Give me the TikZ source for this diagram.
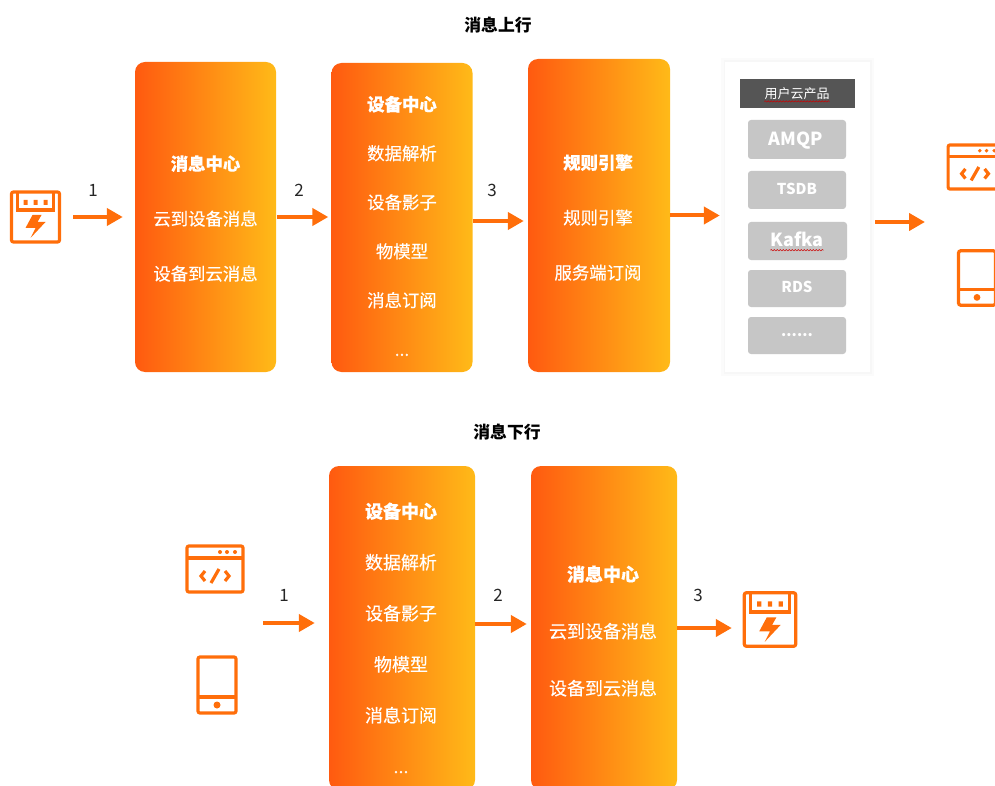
\documentclass[tikz,border=0pt]{standalone}
\usepackage{fontspec}
\setmainfont{Noto Sans CJK SC}
\usetikzlibrary{arrows.meta,decorations.pathmorphing}
\definecolor{flowOrange}{HTML}{FF6E0A}
\definecolor{flowLeft}{HTML}{FF5A10}
\definecolor{flowMid}{HTML}{FFA018}
\definecolor{flowRight}{HTML}{FFBA18}
\definecolor{itemGray}{HTML}{C6C6C6}
\definecolor{headGray}{HTML}{555555}
\tikzstyle{flow box} = [rectangle,rounded corners=10,left color=flowLeft,middle color=flowMid,right color=flowRight,draw=none]
\tikzstyle{box text} = [align=center,text=white,inner sep=0]
\tikzstyle{flow arrow} = [draw=flowOrange,line width=4,-{Triangle[length=16pt,width=17pt]}]
\tikzstyle{step label} = [inner sep=0,text=black!85,font=\fontsize{17}{20}\selectfont]
\tikzstyle{cloud item} = [rectangle,rounded corners=3,fill=itemGray,minimum width=98,text=white,font=\fontsize{15}{18}\selectfont\bfseries]
\tikzstyle{squiggle} = [draw=red!80!black,line width=.5,decorate,decoration={snake,amplitude=.7,segment length=3}]
\tikzstyle{icon line} = [draw=flowOrange,line width=3.2,rounded corners=2,fill=none]
\newcommand{\bodyfont}[2]{\fontsize{#1}{#2}\selectfont\addfontfeature{FakeBold=.3}}
\tikzset{
    device icon/.pic={
        \draw[icon line] (-24,-25) rectangle (24,25);
        \draw[icon line,rounded corners=0] (-18,-25) -- (-18,-7) -- (18,-7) -- (18,-25);
        \fill[flowOrange] (-12,-17) rectangle (-8,-12) (-2,-17) rectangle (2,-12) (8,-17) rectangle (12,-12);
        \fill[flowOrange] (-3,-2) -- (6,-2) -- (2,5) -- (10,5) -- (-5,21) -- (0,11) -- (-10,11) -- cycle;
    },
    web icon/.pic={
        \draw[icon line] (-28,-23) rectangle (28,23);
        \draw[icon line] (-28,-11) -- (28,-11);
        \fill[flowOrange] (5,-17) circle (2) (12,-17) circle (2) (20,-17) circle (2);
        \draw[icon line,rounded corners=0] (-10,2) -- (-14,7) -- (-10,12);
        \draw[icon line,rounded corners=0] (10,2) -- (14,7) -- (10,12);
        \draw[icon line,rounded corners=0] (-4,14) -- (4,0);
    },
    phone icon/.pic={
        \draw[icon line] (-19,-28) rectangle (19,28);
        \draw[icon line] (-19,12) -- (19,12);
        \fill[flowOrange] (0,20) circle (3.5);
    }
}

\begin{document}
\begin{tikzpicture}[x=1pt,y=-1pt,font=\fontsize{17}{20}\selectfont]
\useasboundingbox (0,0) rectangle (995,786);
\clip (0,0) rectangle (995,786);

    % Upstream
    \node(titleUp)[inner sep=0,font=\fontsize{16.8}{20}\selectfont\bfseries] at (498,25){消息上行};

    \node(deviceUp)[inner sep=0,minimum width=49,minimum height=52] at (35.5,217){};
    \pic at (deviceUp){device icon};

    \node(msgUp)[flow box,minimum width=141,minimum height=310] at (205.5,217){};
    \node(msgUpText)[box text,font=\bodyfont{17.4}{55}] at (205.5,218.5){\textbf{消息中心}\\云到设备消息\\设备到云消息};

    \node(devUp)[flow box,minimum width=141,minimum height=309] at (402,217.5){};
    \node(devUpText)[box text,font=\bodyfont{17.4}{49}] at (402,226){\textbf{设备中心}\\数据解析\\设备影子\\物模型\\消息订阅\\...};

    \node(ruleUp)[flow box,minimum width=142,minimum height=313] at (599,215.5){};
    \node(ruleUpText)[box text,font=\bodyfont{17.4}{55}] at (598,217.5){\textbf{规则引擎}\\规则引擎\\服务端订阅};

    % Cloud products
    \node(cloudPanel)[rectangle,fill=white,minimum width=145,minimum height=310,
        preaction={draw=black!1.5,line width=8},preaction={draw=black!3,line width=3}] at (797.5,217){};
    \node(cloudHead)[rectangle,fill=headGray,minimum width=115,minimum height=29,inner sep=0] at (797.5,93.5){};
    \node(cloudHeadText)[inner sep=0,text=white,font=\fontsize{13}{15}\selectfont] at (797,93.5){用户云产品};
    \node(amqp)[cloud item,minimum height=39] at (797,139.5){};
    \node(amqpText)[inner sep=0,text=white,font=\fontsize{18}{20}\selectfont\bfseries] at (796,141){AMQP};
    \node(tsdb)[cloud item,minimum height=38] at (797,190){};
    \node(tsdbText)[inner sep=0,text=white,font=\fontsize{15}{18}\selectfont\bfseries] at (797,189){TSDB};
    \node(kafka)[cloud item,minimum height=38,minimum width=99] at (797.5,241){};
    \node(kafkaText)[inner sep=0,text=white,font=\fontsize{18}{20}\selectfont\bfseries] at (797,239){Kafka};
    \node(rds)[cloud item,minimum height=37] at (797,288.5){};
    \node(rdsText)[inner sep=0,text=white,font=\fontsize{15}{18}\selectfont\bfseries] at (797,286.5){RDS};
    \node(more)[cloud item,minimum height=37] at (797,335.5){};
    \node(moreText)[inner sep=0,text=white,font=\fontsize{15}{18}\selectfont\bfseries] at (797,335.5){......};

    \draw[squiggle] ([yshift=-3pt]cloudHeadText.base west) -- ([yshift=-3pt]cloudHeadText.base east);
    \draw[squiggle] ([yshift=-4pt]kafkaText.base west) -- ([yshift=-4pt]kafkaText.base east);

    \node(webUp)[inner sep=0,minimum width=58,minimum height=46] at (975,167){};
    \pic[scale=.96] at (webUp){web icon};
    \node(phoneUp)[inner sep=0,minimum width=40,minimum height=56] at (977,278){};
    \pic[scale=.97] at (phoneUp){phone icon};
    \coordinate(outUp) at (925,222);

    \draw[flow arrow,shorten <=13,shorten >=12] (deviceUp) -- (msgUp);
    \draw[flow arrow,shorten <=1,shorten >=3] (msgUp.east) -- (msgUp.east -| devUp.west);
    \draw[flow arrow,shorten >=4] ([yshift=-3.5pt]devUp.east) -- ([yshift=-5.5pt]ruleUp.west);
    \draw[flow arrow,shorten >=5] (ruleUp.east) -- (ruleUp.east -| cloudPanel.west);
    \draw[flow arrow,shorten <=5] (cloudPanel.east |- outUp) -- (outUp);

    \node(oneUp)[step label] at (93,190){1};
    \node(twoUp)[step label] at (299,190){2};
    \node(threeUp)[step label] at (492,190){3};

    % Downstream
    \node(titleDown)[inner sep=0,font=\fontsize{16.8}{20}\selectfont\bfseries] at (507,432){消息下行};

    \node(webDown)[inner sep=0,minimum width=58,minimum height=48] at (215,569){};
    \pic at (webDown){web icon};
    \node(phoneDown)[inner sep=0,minimum width=40,minimum height=58] at (217,685){};
    \pic at (phoneDown){phone icon};
    \coordinate(inDown) at (263,623);

    \node(devDown)[flow box,minimum width=146,minimum height=324] at (402,628){};
    \node(devDownText)[box text,font=\bodyfont{18}{51}] at (401,638){\textbf{设备中心}\\数据解析\\设备影子\\物模型\\消息订阅\\...};

    \node(msgDown)[flow box,minimum width=146,minimum height=324] at (604,628){};
    \node(msgDownText)[box text,font=\bodyfont{18}{57}] at (603,631){\textbf{消息中心}\\云到设备消息\\设备到云消息};

    \node(deviceDown)[inner sep=0,minimum width=52,minimum height=56] at (770,619.5){};
    \pic[scale=1.07] at (deviceDown){device icon};

    \draw[flow arrow,shorten >=14] (inDown) -- (devDown.west |- inDown);
    \draw[flow arrow,shorten >=4] ([yshift=4pt]devDown.east) -- ([yshift=4pt]msgDown.west);
    \draw[flow arrow,shorten >=12] (msgDown.east) -- (msgDown.east -| deviceDown.west);

    \node(oneDown)[step label] at (284,595){1};
    \node(twoDown)[step label] at (498,595){2};
    \node(threeDown)[step label] at (698,595){3};

\end{tikzpicture}
\end{document}
